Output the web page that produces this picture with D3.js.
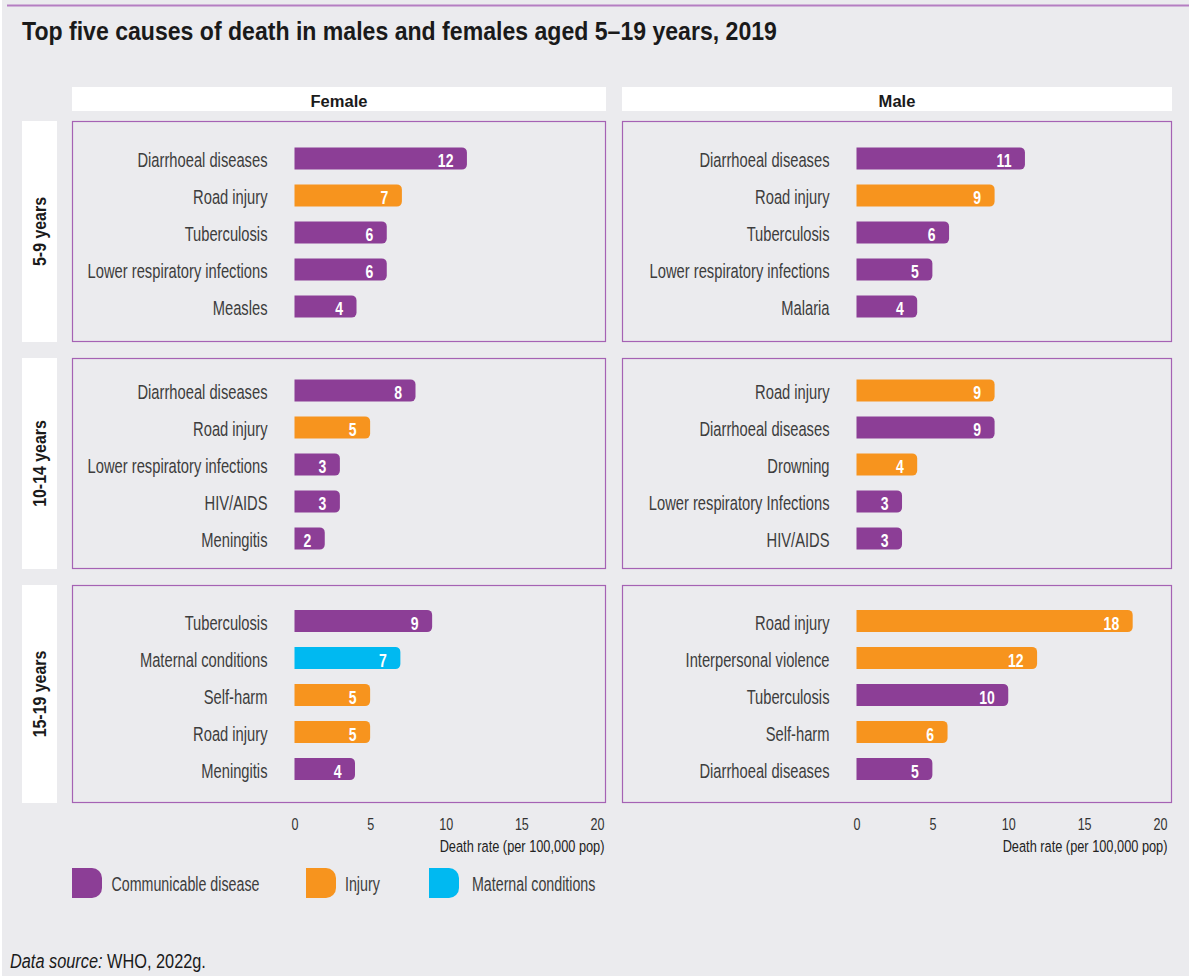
<!DOCTYPE html>
<html>
<head>
<meta charset="utf-8">
<script src="https://cdn.jsdelivr.net/npm/d3@7"></script>
<style>
  body { margin: 0; background: #fff; }
  svg { display: block; }
</style>
</head>
<body>
<div id="chart"></div>
<script>
// categories and series
const sexes = ['Female', 'Male']
const ageGroups = ['5-9 years', '10-14 years', '15-19 years']
const categories = ['Communicable disease', 'Injury', 'Maternal conditions']
const categoryColors = ['#8c3e96', '#f7941e', '#00b9f1']
const xTicks = [0, 5, 10, 15, 20]

const femaleCauses = [
  ['Diarrhoeal diseases', 'Road injury', 'Tuberculosis', 'Lower respiratory infections', 'Measles'],
  ['Diarrhoeal diseases', 'Road injury', 'Lower respiratory infections', 'HIV/AIDS', 'Meningitis'],
  ['Tuberculosis', 'Maternal conditions', 'Self-harm', 'Road injury', 'Meningitis']
]
const femaleValues = [
  [11.4, 7.1, 6.1, 6.1, 4.1],
  [8.0, 5.0, 3.0, 3.0, 2.0],
  [9.1, 7.0, 5.0, 5.0, 4.0]
]
const femaleLabels = [
  ['12', '7', '6', '6', '4'],
  ['8', '5', '3', '3', '2'],
  ['9', '7', '5', '5', '4']
]
const femaleTypes = [
  ['Communicable disease', 'Injury', 'Communicable disease', 'Communicable disease', 'Communicable disease'],
  ['Communicable disease', 'Injury', 'Communicable disease', 'Communicable disease', 'Communicable disease'],
  ['Communicable disease', 'Maternal conditions', 'Injury', 'Injury', 'Communicable disease']
]

const maleCauses = [
  ['Diarrhoeal diseases', 'Road injury', 'Tuberculosis', 'Lower respiratory infections', 'Malaria'],
  ['Road injury', 'Diarrhoeal diseases', 'Drowning', 'Lower respiratory Infections', 'HIV/AIDS'],
  ['Road injury', 'Interpersonal violence', 'Tuberculosis', 'Self-harm', 'Diarrhoeal diseases']
]
const maleValues = [
  [11.1, 9.1, 6.1, 5.0, 4.0],
  [9.1, 9.1, 4.0, 3.0, 3.0],
  [18.2, 11.9, 10.0, 6.0, 5.0]
]
const maleLabels = [
  ['11', '9', '6', '5', '4'],
  ['9', '9', '4', '3', '3'],
  ['18', '12', '10', '6', '5']
]
const maleTypes = [
  ['Communicable disease', 'Injury', 'Communicable disease', 'Communicable disease', 'Communicable disease'],
  ['Injury', 'Communicable disease', 'Injury', 'Communicable disease', 'Communicable disease'],
  ['Injury', 'Injury', 'Communicable disease', 'Injury', 'Communicable disease']
]

const FONT = '"Liberation Sans", Arial, sans-serif'
const width = 1189
const height = 976

// layout of the small multiples
const columns = [
  { left: 72, right: 606, x0: 294.5, x1: 597 },
  { left: 622, right: 1172, x0: 856.5, x1: 1160 }
]
const rows = [
  { top: 121, bottom: 342 },
  { top: 358, bottom: 569 },
  { top: 585, bottom: 803 }
]

const color = d3.scaleOrdinal().domain(categories).range(categoryColors)

const svg = d3.select('#chart')
  .append('svg')
  .attr('width', width)
  .attr('height', height)
  .style('font-family', FONT)

// the original uses a condensed face; squeeze a regular one to the same width
const measure = (str, size, weight, style) => {
  const t = svg.append('text')
    .attr('font-size', size)
    .attr('font-weight', weight || 'normal')
    .attr('font-style', style || 'normal')
    .text(str)
  const w = t.node().getComputedTextLength()
  t.remove()
  return w
}
const squeeze = (str, size, weight, target) => target / measure(str, size, weight)

const sxTitle = squeeze('Top five causes of death in males and females aged 5–19 years, 2019', 26, 'bold', 755)
const sxCause = squeeze('Lower respiratory infections', 19.5, 'normal', 180)
const sxHead = squeeze('Female', 17, 'bold', 57)
const sxRow = squeeze('5-9 years', 18.5, 'bold', 69)
const sxValue = squeeze('12', 18.5, 'bold', 15.6)
const sxTick = squeeze('20', 16.5, 'normal', 14)
const sxAxis = squeeze('Death rate (per 100,000 pop)', 16.5, 'normal', 165)
const sxLegend = squeeze('Communicable disease', 19.5, 'normal', 148)
const sxSource = squeeze('Data source: WHO, 2022g.', 21, 'normal', 196)

const at = (x, y, sx) => `translate(${x}, ${y}) scale(${sx}, 1)`

// background
svg.append('rect')
  .attr('x', 2).attr('y', 0)
  .attr('width', width - 2).attr('height', height)
  .attr('fill', '#ebebee')
svg.append('line')
  .attr('x1', 7).attr('x2', width)
  .attr('y1', 5.5).attr('y2', 5.5)
  .attr('stroke', '#b57ec2')
  .attr('stroke-width', 2)

// title
svg.append('text')
  .attr('transform', at(22, 39.5, sxTitle))
  .attr('font-size', 26)
  .attr('font-weight', 'bold')
  .attr('fill', '#1a1a1a')
  .text('Top five causes of death in males and females aged 5–19 years, 2019')

// rounded right end only
const barPath = (x0, x1, y, h, r) => {
  r = Math.min(r, x1 - x0, h / 2)
  return `M${x0},${y}H${x1 - r}A${r},${r} 0 0 1 ${x1},${y + r}V${y + h - r}A${r},${r} 0 0 1 ${x1 - r},${y + h}H${x0}Z`
}

const sexData = [
  { causes: femaleCauses, values: femaleValues, labels: femaleLabels, types: femaleTypes },
  { causes: maleCauses, values: maleValues, labels: maleLabels, types: maleTypes }
]

sexes.forEach((sex, si) => {
  const col = columns[si]
  const d = sexData[si]

  const xScale = d3.scaleLinear()
    .domain([xTicks[0], xTicks[xTicks.length - 1]])
    .range([col.x0, col.x1])

  // facet header
  svg.append('rect')
    .attr('x', col.left).attr('y', 87)
    .attr('width', col.right - col.left).attr('height', 24)
    .attr('fill', '#fff')
  svg.append('text')
    .attr('transform', at((col.left + col.right) / 2, 106.5, sxHead))
    .attr('text-anchor', 'middle')
    .attr('font-size', 17)
    .attr('font-weight', 'bold')
    .attr('fill', '#1a1a1a')
    .text(sex)

  ageGroups.forEach((age, ri) => {
    const row = rows[ri]
    const mid = (row.top + row.bottom) / 2

    const rowData = d.causes[ri].map((c, i) => ({
      key: c + '|' + i,
      cause: c,
      value: d.values[ri][i],
      label: d.labels[ri][i],
      type: d.types[ri][i]
    }))

    const yScale = d3.scaleBand()
      .domain(rowData.map(r => r.key))
      .range([mid - 91.5, mid + 93.5])
      .paddingInner(0.4)
      .paddingOuter(0.2)
    const yMid = r => yScale(r.key) + yScale.bandwidth() / 2

    // panel frame
    svg.append('rect')
      .attr('x', col.left + 0.5).attr('y', row.top + 0.5)
      .attr('width', col.right - col.left - 1).attr('height', row.bottom - row.top - 1)
      .attr('fill', 'none')
      .attr('stroke', '#a562b4')
      .attr('stroke-width', 1.2)

    const g = svg.append('g')

    g.selectAll('.cause')
      .data(rowData)
      .enter()
      .append('text')
      .attr('class', 'cause')
      .attr('transform', r => at(col.x0 - 27, yMid(r) + 8.5, sxCause))
      .attr('text-anchor', 'end')
      .attr('font-size', 19.5)
      .attr('fill', '#3d3d3d')
      .text(r => r.cause)

    g.selectAll('.bar')
      .data(rowData)
      .enter()
      .append('path')
      .attr('class', 'bar')
      .attr('d', r => barPath(xScale(0), xScale(r.value), yScale(r.key), yScale.bandwidth(), 5))
      .attr('fill', r => color(r.type))

    g.selectAll('.val')
      .data(rowData)
      .enter()
      .append('text')
      .attr('class', 'val')
      .attr('transform', r => at(xScale(r.value) - 13.5, yMid(r) + 8.5, sxValue))
      .attr('text-anchor', 'end')
      .attr('font-size', 18.5)
      .attr('font-weight', 'bold')
      .attr('fill', '#fff')
      .text(r => r.label)

    // row strip (once)
    if (si === 0) {
      svg.append('rect')
        .attr('x', 22).attr('y', row.top)
        .attr('width', 35).attr('height', row.bottom - row.top)
        .attr('fill', '#fff')
      svg.append('text')
        .attr('transform', `translate(45.5, ${mid}) rotate(-90) scale(${sxRow}, 1)`)
        .attr('text-anchor', 'middle')
        .attr('font-size', 18.5)
        .attr('font-weight', 'bold')
        .attr('fill', '#1a1a1a')
        .text(age)
    }
  })

  // x axis
  const axis = svg.append('g')
    .attr('transform', 'translate(0, 829.5)')
    .call(d3.axisBottom(xScale).tickValues(xTicks).tickSize(0).tickPadding(0).tickFormat(d3.format('d')))
  axis.select('.domain').remove()
  axis.selectAll('text')
    .attr('y', 0)
    .attr('dy', 0)
    .attr('transform', `scale(${sxTick}, 1)`)
    .style('font-family', FONT)
    .style('font-size', '16.5px')
    .style('fill', '#333')

  svg.append('text')
    .attr('transform', at(col.x1 + 7.5, 852, sxAxis))
    .attr('text-anchor', 'end')
    .attr('font-size', 16.5)
    .attr('fill', '#222')
    .text('Death rate (per 100,000 pop)')
})

// legend
const legendX = [72, 306, 429]
const legendGap = [39.5, 39, 43]
const legend = svg.selectAll('.legend')
  .data(categories)
  .enter()
  .append('g')
  .attr('class', 'legend')
  .attr('transform', (c, i) => `translate(${legendX[i]}, 868)`)
legend.append('path')
  .attr('d', barPath(0, 30, 0, 30, 10))
  .attr('fill', c => color(c))
legend.append('text')
  .attr('transform', (c, i) => at(legendGap[i], 23, sxLegend))
  .attr('font-size', 19.5)
  .attr('fill', '#3d3d3d')
  .text(c => c)

// source
const src = svg.append('text')
  .attr('transform', at(10, 968, sxSource))
  .attr('font-size', 21)
  .attr('fill', '#1a1a1a')
src.append('tspan').attr('font-style', 'italic').text('Data source:')
src.append('tspan').text(' WHO, 2022g.')
</script>
</body>
</html>
